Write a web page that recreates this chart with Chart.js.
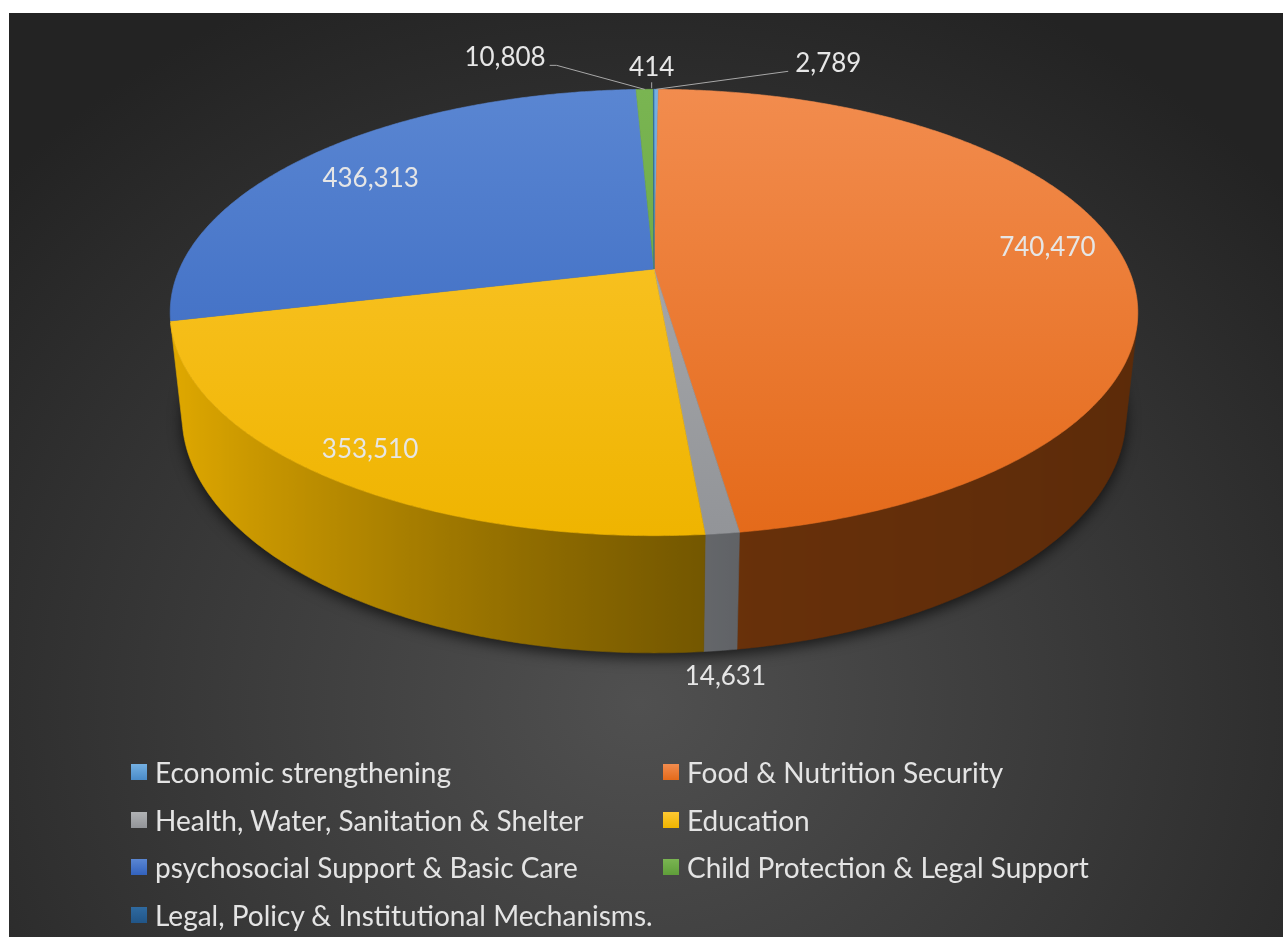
<!DOCTYPE html>
<html>
<head>
<meta charset="utf-8">
<script src="https://cdn.jsdelivr.net/npm/chart.js@4.4.0/dist/chart.umd.min.js"></script>
<style>
  html, body { margin: 0; padding: 0; background: #ffffff; }
  #frame {
    position: absolute; left: 9px; top: 13px; width: 1274px; height: 924px; overflow: hidden;
    background: radial-gradient(ellipse 860px 780px at 631px 690px, #505050 0%, #3c3c3c 45%, #232323 100%);
  }
  #chart { position: absolute; left: 0; top: 0; }
  .lg-item {
    position: absolute; display: flex; align-items: center; height: 30px;
    font-family: Lato, "Open Sans", sans-serif; font-size: 28px; color: #e4e4e4; white-space: nowrap;
  }
  .lg-box { width: 16px; height: 16px; margin-right: 8px; flex: none; }
</style>
</head>
<body>
<div id="frame">
  <canvas id="chart" width="1274" height="924"></canvas>
  <div id="legend"></div>
</div>
<script>
// ---- data ----
const categories = [
  'Economic strengthening',
  'Food & Nutrition Security',
  'Health, Water, Sanitation & Shelter',
  'Education',
  'psychosocial Support & Basic Care',
  'Child Protection & Legal Support',
  'Legal, Policy & Institutional Mechanisms.'
];
const values = [2789, 740470, 14631, 353510, 436313, 10808, 414];

// ---- colours ----
const faceLight = ['#74b0e2', '#f28c4e', '#b0b2b4', '#fdc833', '#5a86d2', '#7ab552', '#2f6aa0'];
const faceDark  = ['#4a8bc8', '#e46a1a', '#929498', '#efb400', '#3262bd', '#5f9e3a', '#215587'];
const wallBase  = ['#5b9bd5', '#f07018', '#dde2ea', '#ffc000', '#4472c4', '#70ad47', '#255e91'];

// ---- 3D view (camera tilt / distance, pie thickness) ----
const view = { cx: 645, cy: 256, focal: 2172, dist: 4.577, tilt: 26.9 * Math.PI / 180, thickness: 0.245 };

// label placement: inside labels sit on the top face, the rest hang off the rim with leader lines
const labelPlacement = [
  { at: 'rim',  dx: 139, dy: -26, align: 'left',   leader: [[132, -18]] },
  { at: 'face', r: 0.84, dy: -9 },
  { at: 'base', dx: 5,   dy: 26,  align: 'center', leader: [] },
  { at: 'face', r: 0.88, dy: 3 },
  { at: 'face', r: 0.82, dy: 6 },
  { at: 'rim',  dx: -99, dy: -32, align: 'right',  leader: [[-88, -24], [-95, -24]] },
  { at: 'rim',  dx: -2,  dy: -22, align: 'center', leader: [[-2, -1], [-2, -7]], fromOffset: true }
];

function project(a, r, y) {
  const X = r * Math.cos(a), Z = r * Math.sin(a);
  const se = Math.sin(view.tilt), ce = Math.cos(view.tilt);
  const dep = view.dist - y * se - Z * ce;
  return [view.cx + view.focal * X / dep, view.cy - view.focal * (y * ce - Z * se) / dep];
}

function hexRgb(h) {
  const n = parseInt(h.slice(1), 16);
  return [(n >> 16) & 255, (n >> 8) & 255, n & 255];
}
function shade(h, f) {
  const [r, g, b] = hexRgb(h);
  return `rgb(${Math.round(r * f)},${Math.round(g * f)},${Math.round(b * f)})`;
}
function wallShade(a) {
  const deg = a * 180 / Math.PI;
  const c = Math.cos((deg - 170) * Math.PI / 180);
  return 0.44 + 0.44 * Math.pow(Math.max(0, c), 1.3) - 0.06 * Math.max(0, Math.cos(a));
}

const pie3d = {
  id: 'pie3d',
  beforeDatasetsDraw(chart) {
    const ctx = chart.ctx;
    const arcs = chart.getDatasetMeta(0).data;
    const h = -view.thickness;
    const step = Math.PI / 360;

    // soft shadow under the pie
    ctx.save();
    ctx.beginPath();
    for (let k = 0; k <= 720; k++) {
      const p = project(k * step, 1, h);
      k ? ctx.lineTo(p[0], p[1]) : ctx.moveTo(p[0], p[1]);
    }
    ctx.closePath();
    ctx.shadowColor = 'rgba(0,0,0,0.65)';
    ctx.shadowBlur = 14;
    ctx.shadowOffsetY = 5;
    ctx.fillStyle = '#1a1a1a';
    ctx.fill();
    ctx.restore();

    // outer walls: only the front-facing part (where the rim's tangent plane
    // turns towards the camera), shaded left-to-right along the rim
    const minSin = 1 / (view.dist * Math.cos(view.tilt)) - 0.01;
    arcs.forEach((arc, i) => {
      const s = arc.startAngle, e = arc.endAngle;
      const pts = [];
      const n = Math.max(2, Math.ceil((e - s) / step));
      for (let k = 0; k <= n; k++) {
        const a = s + (e - s) * k / n;
        if (Math.sin(a) >= minSin) pts.push(a);
      }
      if (pts.length < 2) return;
      ctx.beginPath();
      pts.forEach((a, k) => {
        const p = project(a, 1, 0);
        k ? ctx.lineTo(p[0], p[1]) : ctx.moveTo(p[0], p[1]);
      });
      for (let k = pts.length - 1; k >= 0; k--) {
        const p = project(pts[k], 1, h);
        ctx.lineTo(p[0], p[1]);
      }
      ctx.closePath();
      const samples = pts.map(a => ({ x: project(a, 1, 0)[0], c: shade(wallBase[i], wallShade(a)) }))
        .sort((p, q) => p.x - q.x);
      const x0 = samples[0].x, x1 = samples[samples.length - 1].x;
      let fill;
      if (x1 - x0 < 1) {
        fill = samples[0].c;
      } else {
        fill = ctx.createLinearGradient(x0, 0, x1, 0);
        let last = -1;
        samples.forEach((sm, k) => {
          const t = (sm.x - x0) / (x1 - x0);
          if (t > last + 0.004 || k === samples.length - 1) { fill.addColorStop(Math.min(1, Math.max(0, t)), sm.c); last = t; }
        });
      }
      ctx.fillStyle = fill;
      ctx.strokeStyle = fill;
      ctx.lineWidth = 0.6;
      ctx.fill();
      ctx.stroke();
    });

    // top faces
    const yTop = project(-Math.PI / 2, 1, 0)[1], yBot = project(Math.PI / 2, 1, 0)[1];
    const c0 = project(0, 0, 0);
    arcs.forEach((arc, i) => {
      const s = arc.startAngle, e = arc.endAngle;
      const n = Math.max(2, Math.ceil((e - s) / step));
      ctx.beginPath();
      ctx.moveTo(c0[0], c0[1]);
      for (let k = 0; k <= n; k++) {
        const p = project(s + (e - s) * k / n, 1, 0);
        ctx.lineTo(p[0], p[1]);
      }
      ctx.closePath();
      const g = ctx.createLinearGradient(0, yTop, 0, yBot);
      g.addColorStop(0, faceLight[i]);
      g.addColorStop(1, faceDark[i]);
      ctx.fillStyle = g;
      ctx.strokeStyle = g;
      ctx.lineWidth = 0.6;
      ctx.fill();
      ctx.stroke();
    });
    return false;
  },
  afterDraw(chart) {
    const ctx = chart.ctx;
    const arcs = chart.getDatasetMeta(0).data;
    ctx.save();
    ctx.font = '26px Lato, "Open Sans", sans-serif';
    ctx.fillStyle = '#e6e6e6';
    ctx.textBaseline = 'middle';
    ctx.strokeStyle = '#a8a8a8';
    ctx.lineWidth = 1;
    arcs.forEach((arc, i) => {
      const mid = (arc.startAngle + arc.endAngle) / 2;
      const pl = labelPlacement[i];
      const text = values[i].toLocaleString('en-US');
      if (pl.at === 'face') {
        const p = project(mid, pl.r, 0);
        ctx.textAlign = 'center';
        ctx.fillText(text, p[0], p[1] + pl.dy);
        return;
      }
      const anchor = pl.at === 'rim' ? project(mid, 1, 0) : project(mid, 1, -view.thickness);
      if (pl.leader.length) {
        ctx.beginPath();
        if (pl.fromOffset) {
          ctx.moveTo(anchor[0] + pl.leader[0][0], anchor[1] + pl.leader[0][1]);
          for (let k = 1; k < pl.leader.length; k++) ctx.lineTo(anchor[0] + pl.leader[k][0], anchor[1] + pl.leader[k][1]);
        } else {
          ctx.moveTo(anchor[0], anchor[1]);
          pl.leader.forEach(o => ctx.lineTo(anchor[0] + o[0], anchor[1] + o[1]));
        }
        ctx.stroke();
      }
      ctx.textAlign = pl.align;
      ctx.fillText(text, anchor[0] + pl.dx, anchor[1] + pl.dy);
    });
    ctx.restore();
  }
};

const chart = new Chart(document.getElementById('chart'), {
  type: 'pie',
  data: {
    labels: categories,
    datasets: [{ data: values, backgroundColor: wallBase, borderWidth: 0 }]
  },
  options: {
    responsive: false,
    animation: false,
    events: [],
    plugins: { legend: { display: false }, tooltip: { enabled: false } }
  },
  plugins: [pie3d]
});

// legend, two columns, built from the chart's own legend items
const legendPos = { left: [122, 654], top: 744, rowGap: 47.7 };
const legendEl = document.getElementById('legend');
chart.options.plugins.legend.labels.generateLabels(chart).forEach((item, k) => {
  const col = k % 2, row = Math.floor(k / 2);
  const el = document.createElement('div');
  el.className = 'lg-item';
  el.style.left = legendPos.left[col] + 'px';
  el.style.top = (legendPos.top + row * legendPos.rowGap) + 'px';
  const box = document.createElement('span');
  box.className = 'lg-box';
  box.style.background = `linear-gradient(to bottom, ${faceLight[item.index]}, ${faceDark[item.index]})`;
  const txt = document.createElement('span');
  txt.textContent = item.text;
  el.appendChild(box);
  el.appendChild(txt);
  legendEl.appendChild(el);
});
</script>
</body>
</html>
